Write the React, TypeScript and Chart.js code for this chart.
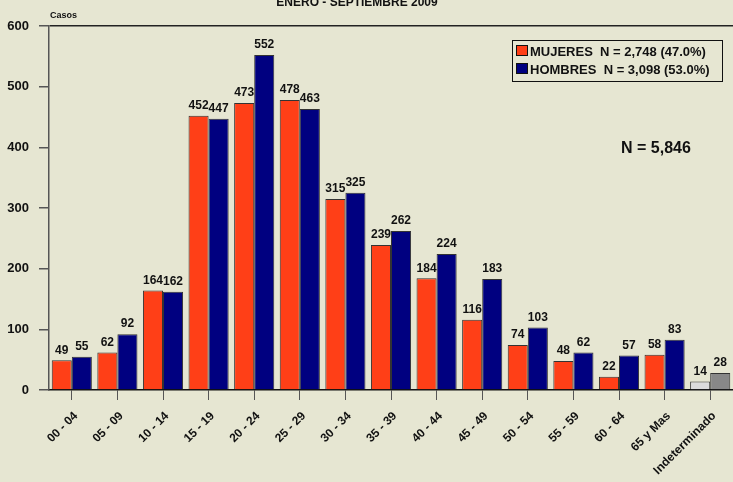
import React, { useEffect, useRef } from "react";
import { Chart, registerables } from "chart.js";

Chart.register(...registerables);

const categories = ["00 - 04", "05 - 09", "10 - 14", "15 - 19", "20 - 24", "25 - 29", "30 - 34", "35 - 39", "40 - 44", "45 - 49", "50 - 54", "55 - 59", "60 - 64", "65 y Mas", "Indeterminado"];
const mujeres = [49, 62, 164, 452, 473, 478, 315, 239, 184, 116, 74, 48, 22, 58, 14];
const hombres = [55, 92, 162, 447, 552, 463, 325, 262, 224, 183, 103, 62, 57, 83, 28];
const yTicks = [0, 100, 200, 300, 400, 500, 600];
const legendLabels = ["MUJERES  N = 2,748 (47.0%)", "HOMBRES  N = 3,098 (53.0%)"];
const titleText = "ENERO - SEPTIEMBRE 2009";
const totalText = "N = 5,846";
const yAxisTitle = "Casos";

const BG = "#E6E6D2";
const ORANGE = "#FF3F17";
const NAVY = "#000080";
const FONT = "'Liberation Sans', Arial, sans-serif";

export default function App() {
  const ref = useRef<HTMLCanvasElement | null>(null);
  useEffect(() => {
    document.body.style.margin = "0";
    const canvas = ref.current!;
    const decorPlugin = {
      id: "decor",
      beforeDraw(chart: any) {
        const c = chart.ctx;
        c.save();
        c.fillStyle = BG;
        c.fillRect(0, 0, chart.width, chart.height);
        c.restore();
      },
      afterDatasetsDraw(chart: any) {
        const c = chart.ctx;
        c.save();
        // value labels
        c.font = `bold 12px ${FONT}`;
        c.fillStyle = "#111";
        c.textAlign = "center";
        c.textBaseline = "bottom";
        chart.data.datasets.forEach((ds: any, di: number) => {
          const meta = chart.getDatasetMeta(di);
          meta.data.forEach((bar: any, i: number) => {
            c.fillText(String(ds.data[i]), bar.x, bar.y - 4);
          });
        });
        // title
        c.font = `bold 12px ${FONT}`;
        c.textBaseline = "alphabetic";
        c.fillText(titleText, 357, 6);
        // y axis title
        c.font = `bold 9px ${FONT}`;
        c.textAlign = "left";
        c.fillText(yAxisTitle, 50, 18);
        // total
        c.font = `bold 16px ${FONT}`;
        c.fillText(totalText, 621, 153);
        // legend
        c.strokeStyle = "#111";
        c.lineWidth = 1;
        c.strokeRect(512.5, 40.5, 210, 41);
        const cols = [ORANGE, NAVY];
        c.font = `bold 13px ${FONT}`;
        legendLabels.forEach((t, i) => {
          const y = 45 + i * 18;
          c.fillStyle = cols[i];
          c.fillRect(516, y, 12, 11);
          c.strokeStyle = "#111";
          c.strokeRect(516.5, y + 0.5, 11, 10);
          c.fillStyle = "#111";
          c.fillText(t, 530, y + 11);
        });
        c.restore();
      },
    };
    const chart = new Chart(canvas, {
      type: "bar",
      data: {
        labels: categories,
        datasets: [
          {
            label: "MUJERES",
            data: mujeres,
            backgroundColor: mujeres.map((_, i) => (i === mujeres.length - 1 ? "#DCDCDC" : ORANGE)),
            borderColor: "#333",
            borderWidth: 1,
            barPercentage: 1,
            categoryPercentage: 0.88,
          },
          {
            label: "HOMBRES",
            data: hombres,
            backgroundColor: hombres.map((_, i) => (i === hombres.length - 1 ? "#888888" : NAVY)),
            borderColor: "#333",
            borderWidth: 1,
            barPercentage: 1,
            categoryPercentage: 0.88,
          },
        ],
      },
      options: {
        responsive: false,
        animation: false,
        devicePixelRatio: 1,
        layout: { padding: { top: 26, right: 0, left: 0, bottom: 0 } },
        plugins: { legend: { display: false }, tooltip: { enabled: false }, title: { display: false } },
        scales: {
          x: {
            afterFit: (s: any) => { s.height = 92; },
            grid: { offset: false, drawOnChartArea: false, drawTicks: true, tickLength: 10, color: "#555", lineWidth: 1 },
            border: { display: true, color: "#111", width: 1.5 },
            ticks: {
              minRotation: 45,
              maxRotation: 45,
              autoSkip: false,
              padding: 9,
              labelOffset: 4,
              color: "#111",
              font: { family: FONT, weight: "bold", size: 12 },
            },
          },
          y: {
            min: 0,
            max: 600,
            afterFit: (s: any) => { s.width = 49; },
            afterBuildTicks: (s: any) => { s.ticks = yTicks.map((v) => ({ value: v })); },
            grid: {
              drawOnChartArea: true,
              tickLength: 10,
              color: (ctx: any) => (ctx.tick && ctx.tick.value === 600 ? "#222" : "rgba(0,0,0,0)"),
              tickColor: "#555",
              lineWidth: 1.5,
            },
            border: { display: true, color: "#555", width: 1.5 },
            ticks: {
              padding: 10,
              color: "#111",
              font: { family: FONT, weight: "bold", size: 13 },
            },
          },
        },
      },
      plugins: [decorPlugin],
    } as any);
    return () => chart.destroy();
  }, []);
  return <canvas ref={ref} width={733} height={482} style={{ display: "block" }} />;
}
